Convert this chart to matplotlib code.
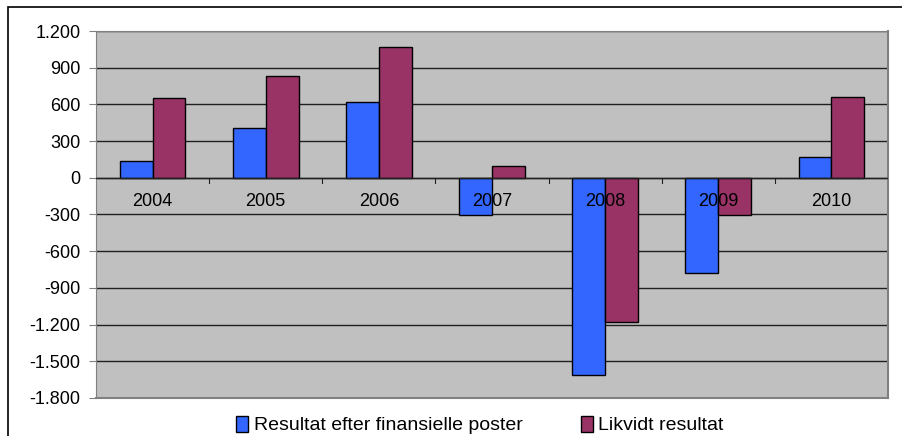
import matplotlib.pyplot as plt
from matplotlib.patches import Rectangle, Patch

years = ['2004', '2005', '2006', '2007', '2008', '2009', '2010']
resultat = [140, 405, 620, -305, -1615, -780, 170]
likvidt = [655, 835, 1070, 95, -1175, -305, 660]
yticks = [1200, 900, 600, 300, 0, -300, -600, -900, -1200, -1500, -1800]
ytick_labels = ['1.200', '900', '600', '300', '0', '-300', '-600', '-900', '-1.200', '-1.500', '-1.800']

plt.rcParams['font.family'] = ['Liberation Sans', 'DejaVu Sans']

fig = plt.figure(figsize=(9.03, 4.36), dpi=100)
# outer chart frame (cropped on the right and bottom)
fig.patches.append(Rectangle((8 / 903, -0.1), 1.2, 1 - 7 / 436 + 0.1, transform=fig.transFigure,
                             fill=False, edgecolor='black', lw=1.2))

ax = fig.add_axes([96 / 903, 1 - 398 / 436, 792 / 903, 367 / 436])
ax.set_facecolor('#C0C0C0')

x = list(range(len(years)))
w = 0.29
ax.bar([i - w / 2 for i in x], resultat, w, color='#3366FF', edgecolor='black', lw=1, zorder=3,
       label='Resultat efter finansielle poster')
ax.bar([i + w / 2 for i in x], likvidt, w, color='#993366', edgecolor='black', lw=1, zorder=3,
       label='Likvidt resultat')

ax.set_xlim(-0.5, len(years) - 0.5)
ax.set_ylim(-1800, 1200)
ax.set_yticks(yticks)
ax.set_yticklabels(ytick_labels, fontsize=13)
ax.yaxis.grid(True, color='#202020', lw=1, zorder=1)
ax.tick_params(axis='y', length=5, width=0.8, color='#808080', pad=6)

# category axis drawn on the zero line
ax.set_xticks([])
ax.axhline(0, color='#202020', lw=1, zorder=4)
for b in range(1, len(years)):
    ax.plot([b - 0.5, b - 0.5], [0, -40], color='#202020', lw=0.8, zorder=4)
for i, yr in enumerate(years):
    ax.text(i, -190, yr, ha='center', va='center', fontsize=13, zorder=5)

for side in ['top', 'left']:
    ax.spines[side].set_color('#808080')
for side in ['right', 'bottom']:
    ax.spines[side].set_color('#808080')
    ax.spines[side].set_linewidth(1.5)

handles = [Patch(facecolor='#3366FF', edgecolor='black'), Patch(facecolor='#993366', edgecolor='black')]
fig.legend(handles, ['Resultat efter finansielle poster', 'Likvidt resultat'],
           loc='center', bbox_to_anchor=(480 / 903, 1 - 425 / 436), ncol=2, frameon=False,
           handlelength=0.6, handleheight=0.9, handletextpad=0.3, columnspacing=3.0,
           prop={'family': ['Liberation Sans Narrow', 'Liberation Sans'], 'size': 14})

fig.savefig('out.png', dpi=100)
